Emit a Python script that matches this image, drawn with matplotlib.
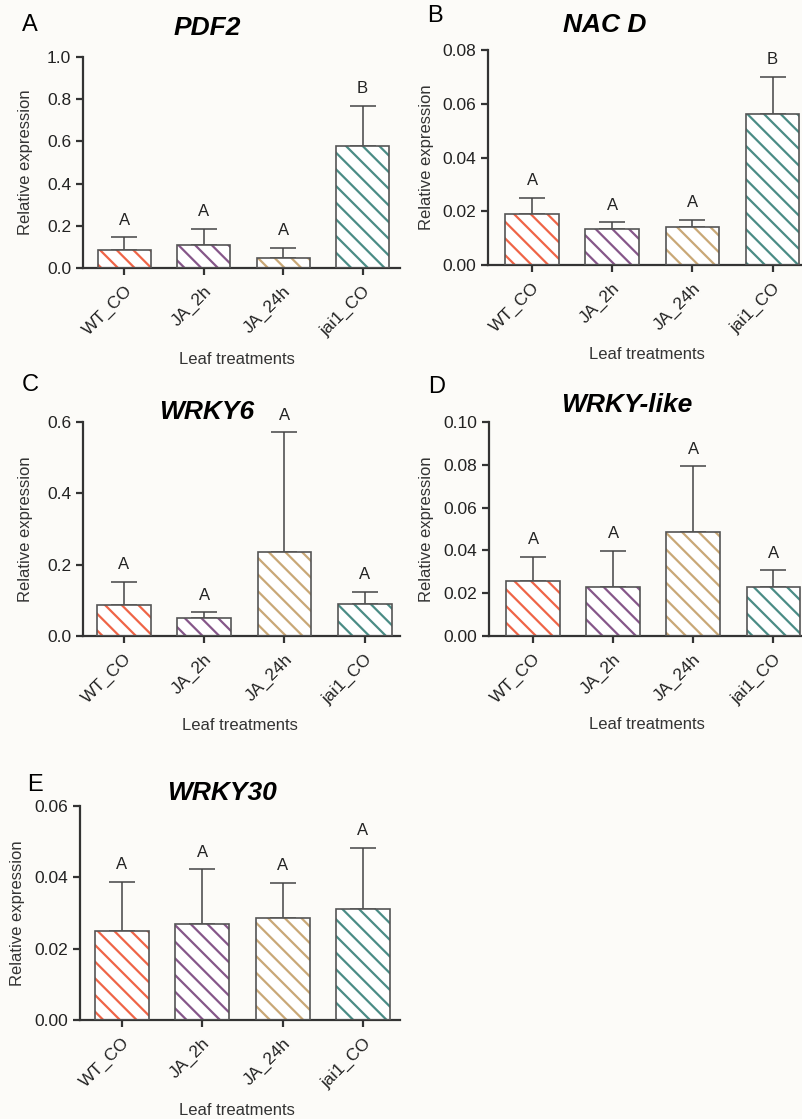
import matplotlib
matplotlib.use("Agg")
import matplotlib.pyplot as plt
import numpy as np

plt.rcParams['font.family'] = ['Liberation Sans', 'DejaVu Sans']
plt.rcParams['hatch.linewidth'] = 1.6

# Data
treatments = ['WT_CO', 'JA_2h', 'JA_24h', 'jai1_CO']
colors = ['#ef6548', '#86578a', '#c9a877', '#4b8c86']

genes = ['PDF2', 'NAC D', 'WRKY6', 'WRKY-like', 'WRKY30']
panel_letters = ['A', 'B', 'C', 'D', 'E']

pdf2_mean = [0.087, 0.107, 0.047, 0.580]
pdf2_err = [0.058, 0.077, 0.047, 0.188]
pdf2_sig = ['A', 'A', 'A', 'B']

nacd_mean = [0.0189, 0.0133, 0.0141, 0.0561]
nacd_err = [0.0062, 0.0026, 0.0028, 0.0140]
nacd_sig = ['A', 'A', 'A', 'B']

wrky6_mean = [0.087, 0.051, 0.236, 0.091]
wrky6_err = [0.064, 0.015, 0.335, 0.033]
wrky6_sig = ['A', 'A', 'A', 'A']

wrkylike_mean = [0.0257, 0.0229, 0.0488, 0.0229]
wrkylike_err = [0.0112, 0.0168, 0.0305, 0.0078]
wrkylike_sig = ['A', 'A', 'A', 'A']

wrky30_mean = [0.0249, 0.0270, 0.0286, 0.0310]
wrky30_err = [0.0139, 0.0152, 0.0098, 0.0172]
wrky30_sig = ['A', 'A', 'A', 'A']

means = [pdf2_mean, nacd_mean, wrky6_mean, wrkylike_mean, wrky30_mean]
errs = [pdf2_err, nacd_err, wrky6_err, wrkylike_err, wrky30_err]
sigs = [pdf2_sig, nacd_sig, wrky6_sig, wrkylike_sig, wrky30_sig]
yticks = [np.arange(0, 1.01, 0.2), np.arange(0, 0.081, 0.02),
          np.arange(0, 0.61, 0.2), np.arange(0, 0.101, 0.02),
          np.arange(0, 0.061, 0.02)]
yfmt = ['%.1f', '%.2f', '%.1f', '%.2f', '%.2f']

# layout in pixels (left, right, y of zero line, y of top)
W, H = 803, 1119
boxes = [(83, 400, 268, 57), (488, 803, 265, 50), (83, 400, 636, 422),
         (489, 803, 636, 422), (80, 400, 1020, 806)]
xlims = [(-0.52, 3.47), (-0.55, 3.38), (-0.51, 3.44), (-0.55, 3.37), (-0.52, 3.46)]
title_pos = [(207, 28), (605, 25), (207, 412), (627, 405), (222, 793)]
letter_pos = [(30, 25), (435, 16), (30, 385), (437, 387), (35, 785)]
ylab_x = [-0.158, -0.171, -0.158, -0.175, -0.172]
xlab_xy = [(0.486, -0.40), (0.505, -0.38), (0.495, -0.383), (0.503, -0.378), (0.49, -0.388)]

bg = '#fcfbf8'
dark = '#333333'
fig = plt.figure(figsize=(W / 100, H / 100), dpi=100, facecolor=bg)

for i in range(5):
    l, r, y0, yt = boxes[i]
    ax = fig.add_axes([l / W, 1 - y0 / H, (r - l) / W, (y0 - yt) / H])
    ax.set_facecolor('none')
    x = np.arange(len(treatments))
    m = np.array(means[i])
    e = np.array(errs[i])

    # coloured hatch, then grey outline
    ax.bar(x, m, width=0.67, color='white', edgecolor=colors, hatch='\\\\',
           linewidth=0, zorder=2)
    ax.bar(x, m, width=0.67, fill=False, edgecolor='#555555', linewidth=1.2, zorder=3)
    ax.errorbar(x, m, yerr=[np.zeros_like(e), e], fmt='none', ecolor='#444444',
                elinewidth=1.1, capsize=9.5, capthick=1.1, zorder=1)

    for xi, top, s in zip(x, m + e, sigs[i]):
        ax.annotate(s, (xi, top), xytext=(0, 7), textcoords='offset points',
                    ha='center', va='bottom', fontsize=12, color='#222222',
                    annotation_clip=False)

    ax.set_xlim(*xlims[i])
    ax.set_ylim(0, yticks[i][-1])
    ax.set_yticks(yticks[i])
    ax.set_yticklabels([yfmt[i] % v for v in yticks[i]])
    ax.set_xticks(x)
    ax.set_xticklabels(treatments, rotation=45, ha='right', rotation_mode='anchor')

    for side in ['top', 'right']:
        ax.spines[side].set_visible(False)
    for side in ['left', 'bottom']:
        ax.spines[side].set_color(dark)
        ax.spines[side].set_linewidth(1.6)
    ax.tick_params(axis='both', colors=dark, width=1.6, length=5, labelsize=12.5,
                   labelcolor='#222222')
    ax.tick_params(axis='x', pad=6)

    ax.set_ylabel('Relative expression', fontsize=12, color='#333333')
    ax.yaxis.set_label_coords(ylab_x[i], 0.5)
    ax.set_xlabel('Leaf treatments', fontsize=12, color='#333333', va='top')
    ax.xaxis.set_label_coords(*xlab_xy[i])

    tx, ty = title_pos[i]
    fig.text(tx / W, 1 - ty / H, genes[i], ha='center', va='center',
             fontsize=19, fontweight='bold', fontstyle='italic', color='black')
    lx, ly = letter_pos[i]
    fig.text(lx / W, 1 - ly / H, panel_letters[i], ha='center', va='center',
             fontsize=17, color='black')

fig.savefig('out.png', dpi=100, facecolor=bg)
